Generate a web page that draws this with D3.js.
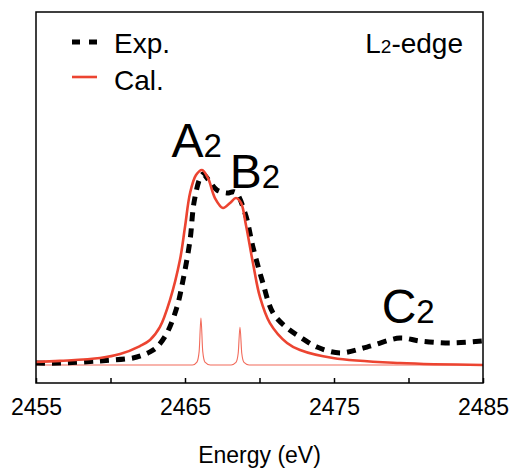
<!DOCTYPE html>
<html>
<head>
<meta charset="utf-8">
<script src="https://cdn.jsdelivr.net/npm/d3@7"></script>
<style>
  body { margin: 0; background: #fff; }
  text { font-family: "Liberation Sans", Arial, sans-serif; }
</style>
</head>
<body>
<div id="chart"></div>
<script>
// Chart size
const width = 512;
const height = 471;
const margin = { top: 12, right: 29, bottom: 88, left: 36 };

// Experimental spectrum (energy in eV, normalised intensity)
const expEnergy = [2455.0, 2456.6, 2459.3, 2461.51, 2462.18, 2462.65, 2463.12, 2463.79, 2464.46, 2464.87,
  2465.34, 2465.6, 2466.01, 2466.21, 2466.68, 2467.15, 2467.82, 2468.36, 2469.03, 2469.56,
  2470.17, 2470.91, 2471.85, 2472.72, 2473.86, 2475.4, 2477.21, 2479.43, 2480.77, 2482.79, 2485.0];
const expIntensity = [0.010, 0.010, 0.021, 0.036, 0.051, 0.067, 0.092, 0.164, 0.297, 0.436,
  0.641, 0.831, 0.959, 0.979, 0.938, 0.897, 0.882, 0.887, 0.779, 0.605,
  0.436, 0.267, 0.190, 0.144, 0.092, 0.062, 0.092, 0.138, 0.123, 0.113, 0.123];

// Calculated spectrum
const calEnergy = [2455.0, 2456.61, 2459.3, 2460.64, 2461.98, 2462.65, 2463.32, 2463.99, 2464.66, 2465.0,
  2465.34, 2465.74, 2466.14, 2466.54, 2467.01, 2467.55, 2468.02, 2468.42, 2468.76, 2469.09,
  2469.56, 2470.03, 2470.7, 2471.85, 2472.72, 2474.93, 2479.43, 2485.0];
const calIntensity = [0.015, 0.021, 0.036, 0.056, 0.097, 0.128, 0.195, 0.333, 0.538, 0.708,
  0.882, 0.974, 1.000, 0.959, 0.856, 0.805, 0.831, 0.856, 0.831, 0.718,
  0.523, 0.349, 0.215, 0.113, 0.077, 0.036, 0.010, 0.000];

// Calculated transitions (narrow lines)
const stickEnergy = [2455.0, 2465.5, 2465.8, 2465.95, 2466.07, 2466.19, 2466.34, 2466.7,
  2468.1, 2468.42, 2468.57, 2468.69, 2468.81, 2468.96, 2469.3, 2485.0];
const stickIntensity = [0, 0, 0.015, 0.07, 0.241, 0.07, 0.015, 0,
  0, 0.013, 0.06, 0.195, 0.06, 0.013, 0, 0];

// Axis ticks
const xTicks = [2455, 2460, 2465, 2470, 2475, 2480, 2485];
const xTickLabels = [2455, 2465, 2475, 2485];

// Peak labels
const peakNames = ["A", "B", "C"];
const peakEnergy = [2464.1, 2468.0, 2478.2];
const peakIntensity = [1.065, 0.91, 0.215];

const red = "#ec4431";

const x = d3.scaleLinear()
    .domain([2455, 2485])
    .range([margin.left, width - margin.right]);

const y = d3.scaleLinear()
    .domain([-0.0923, 1.81])
    .range([height - margin.bottom, margin.top]);

const svg = d3.select("#chart")
  .append("svg")
    .attr("width", width)
    .attr("height", height)
    .style("background", "#fff");

svg.append("defs").append("clipPath")
    .attr("id", "clip")
  .append("rect")
    .attr("x", margin.left)
    .attr("y", margin.top)
    .attr("width", width - margin.left - margin.right)
    .attr("height", height - margin.top - margin.bottom);

const line = d3.line()
    .x((d) => x(d[0]))
    .y((d) => y(d[1]));

const plot = svg.append("g").attr("clip-path", "url(#clip)");

// Narrow transitions
plot.append("path")
    .datum(d3.zip(stickEnergy, stickIntensity))
    .attr("fill", "none")
    .attr("stroke", "#f26b5b")
    .attr("stroke-width", 1.1)
    .attr("d", line.curve(d3.curveMonotoneX));

// Experimental
plot.append("path")
    .datum(d3.zip(expEnergy, expIntensity))
    .attr("fill", "none")
    .attr("stroke", "#000")
    .attr("stroke-width", 5)
    .attr("stroke-dasharray", "9,7")
    .attr("d", line.curve(d3.curveCatmullRom.alpha(0.5)));

// Calculated
plot.append("path")
    .datum(d3.zip(calEnergy, calIntensity))
    .attr("fill", "none")
    .attr("stroke", red)
    .attr("stroke-width", 2.6)
    .attr("d", line.curve(d3.curveCatmullRom.alpha(0.5)));

// Bottom axis: inward ticks, labels every other tick
const xAxis = svg.append("g")
    .attr("transform", `translate(0,${height - margin.bottom})`)
    .call(d3.axisBottom(x)
      .tickValues(xTicks)
      .tickSizeInner(-5)
      .tickSizeOuter(0)
      .tickPadding(16)
      .tickFormat((d) => (xTickLabels.includes(d) ? d : "")));
xAxis.select(".domain").remove();
xAxis.selectAll("line").attr("stroke-width", 1.5);
xAxis.selectAll("text")
    .attr("font-size", 23)
    .attr("fill", "#000")
    .style("font-family", "'Liberation Sans', Arial, sans-serif");

// Frame
svg.append("rect")
    .attr("x", margin.left)
    .attr("y", margin.top)
    .attr("width", width - margin.left - margin.right)
    .attr("height", height - margin.top - margin.bottom)
    .attr("fill", "none")
    .attr("stroke", "#000")
    .attr("stroke-width", 1.5);

// Axis title
svg.append("text")
    .attr("x", (margin.left + width - margin.right) / 2)
    .attr("y", 463)
    .attr("text-anchor", "middle")
    .attr("font-size", 23)
    .text("Energy (eV)");

// Legend
const legend = svg.append("g");
legend.append("line")
    .attr("x1", 72).attr("x2", 98)
    .attr("y1", 42).attr("y2", 42)
    .attr("stroke", "#000")
    .attr("stroke-width", 5)
    .attr("stroke-dasharray", "8,9");
legend.append("line")
    .attr("x1", 72).attr("x2", 97)
    .attr("y1", 77).attr("y2", 77)
    .attr("stroke", red)
    .attr("stroke-width", 2.6);
legend.append("text")
    .attr("x", 114).attr("y", 53)
    .attr("font-size", 28)
    .text("Exp.");
legend.append("text")
    .attr("x", 114).attr("y", 90)
    .attr("font-size", 28)
    .text("Cal.");

// Edge label
const edge = svg.append("text")
    .attr("x", 463).attr("y", 53)
    .attr("text-anchor", "end")
    .attr("font-size", 28);
edge.append("tspan").text("L");
edge.append("tspan").attr("font-size", 19).text("2");
edge.append("tspan").text("-edge");

// Peak labels
peakNames.forEach((name, i) => {
  const t = svg.append("text")
      .attr("x", x(peakEnergy[i]))
      .attr("y", y(peakIntensity[i]))
      .attr("font-size", 48);
  t.append("tspan").text(name);
  t.append("tspan").attr("font-size", 33).text("2");
});
</script>
</body>
</html>
